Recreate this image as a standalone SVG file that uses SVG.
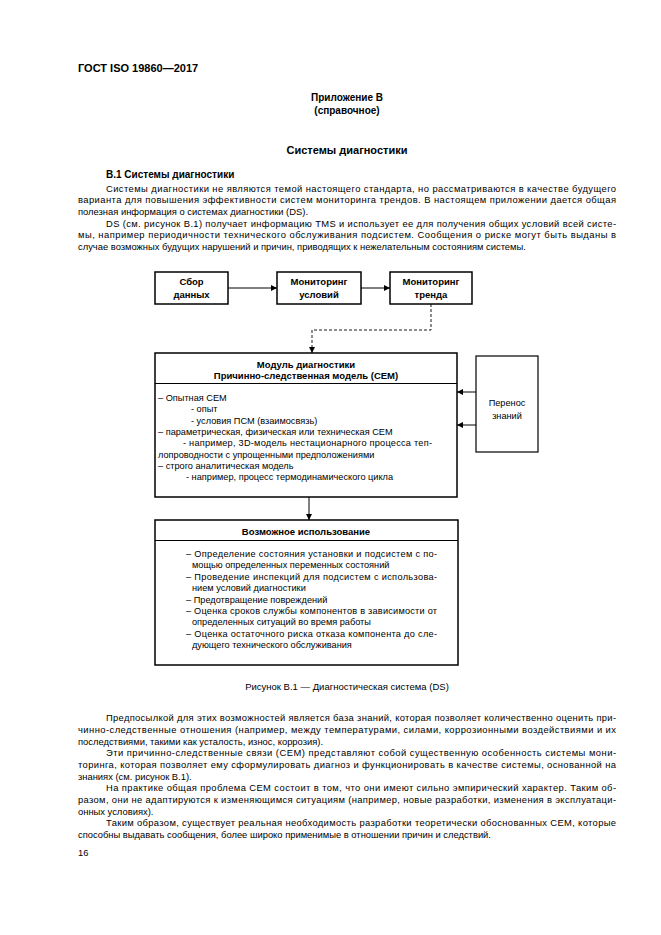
<svg xmlns="http://www.w3.org/2000/svg" width="661" height="935" viewBox="0 0 661 935">
<style>
text{font-family:"Liberation Sans",Arial,sans-serif;fill:#000}
.hd{font-size:11px;font-weight:bold}
.ap{font-size:10px;font-weight:bold;text-anchor:middle}
.p{font-size:9.4px}
.b{font-size:10px;font-weight:bold}
.t{font-size:9.5px;font-weight:bold;text-anchor:middle}
.l{font-size:9.2px}
.c{font-size:9.5px;text-anchor:middle}
.box{fill:#fff;stroke:#000;stroke-width:1.5}
.sep{stroke:#000;stroke-width:1}
.con{fill:none;stroke:#000;stroke-width:1}
.dash{fill:none;stroke:#000;stroke-width:0.9;stroke-dasharray:3,2}
</style>
<defs>
<marker id="ah" viewBox="0 0 10 10" refX="10" refY="5" markerWidth="6" markerHeight="6" markerUnits="userSpaceOnUse" orient="auto">
<path d="M0,0 L10,5 L0,10 z" fill="#000"/>
</marker>
</defs>
<rect width="661" height="935" fill="#fff"/>

<g id="page-text">
<text class="hd" x="78" y="72">ГОСТ ISO 19860—2017</text>
<text class="ap" x="347" y="101">Приложение В</text>
<text class="ap" x="347" y="114">(справочное)</text>
<text class="hd" x="347" y="154" text-anchor="middle">Системы диагностики</text>
<text class="b" x="106" y="178">В.1 Системы диагностики</text>
<text class="p" x="106" y="191.5" textLength="510" lengthAdjust="spacing">Системы диагностики не являются темой настоящего стандарта, но рассматриваются в качестве будущего</text>
<text class="p" x="78" y="203" textLength="538" lengthAdjust="spacing">варианта для повышения эффективности систем мониторинга трендов. В настоящем приложении дается общая</text>
<text class="p" x="78" y="214.5">полезная информация о системах диагностики (DS).</text>
<text class="p" x="106" y="226.5" textLength="510" lengthAdjust="spacing">DS (см. рисунок В.1) получает информацию TMS и использует ее для получения общих условий всей систе-</text>
<text class="p" x="78" y="238" textLength="538" lengthAdjust="spacing">мы, например периодичности технического обслуживания подсистем. Сообщения о риске могут быть выданы в</text>
<text class="p" x="78" y="250">случае возможных будущих нарушений и причин, приводящих к нежелательным состояниям системы.</text>

<text class="c" x="347" y="690">Рисунок В.1 — Диагностическая система (DS)</text>

<text class="p" x="106" y="720.5" textLength="510" lengthAdjust="spacing">Предпосылкой для этих возможностей является база знаний, которая позволяет количественно оценить при-</text>
<text class="p" x="78" y="732.5" textLength="538" lengthAdjust="spacing">чинно-следственные отношения (например, между температурами, силами, коррозионными воздействиями и их</text>
<text class="p" x="78" y="744.5">последствиями, такими как усталость, износ, коррозия).</text>
<text class="p" x="106" y="755.5" textLength="510" lengthAdjust="spacing">Эти причинно-следственные связи (СЕМ) представляют собой существенную особенность системы мони-</text>
<text class="p" x="78" y="767.5" textLength="538" lengthAdjust="spacing">торинга, которая позволяет ему сформулировать диагноз и функционировать в качестве системы, основанной на</text>
<text class="p" x="78" y="779.5">знаниях (см. рисунок В.1).</text>
<text class="p" x="106" y="790.5" textLength="510" lengthAdjust="spacing">На практике общая проблема СЕМ состоит в том, что они имеют сильно эмпирический характер. Таким об-</text>
<text class="p" x="78" y="802.5" textLength="538" lengthAdjust="spacing">разом, они не адаптируются к изменяющимся ситуациям (например, новые разработки, изменения в эксплуатаци-</text>
<text class="p" x="78" y="814.5">онных условиях).</text>
<text class="p" x="106" y="825.5" textLength="510" lengthAdjust="spacing">Таким образом, существует реальная необходимость разработки теоретически обоснованных СЕМ, которые</text>
<text class="p" x="78" y="837.5">способны выдавать сообщения, более широко применимые в отношении причин и следствий.</text>
<text class="p" x="78" y="856">16</text>
</g>

<g id="connectors">
<line class="con" x1="228" y1="288" x2="277" y2="288" marker-end="url(#ah)"/>
<line class="con" x1="361" y1="288" x2="390" y2="288" marker-end="url(#ah)"/>
<path class="dash" d="M431,304 V330 H312 V353" marker-end="url(#ah)"/>
<line class="con" x1="476" y1="392" x2="457" y2="392" marker-end="url(#ah)"/>
<line class="con" x1="476" y1="425" x2="457" y2="425" marker-end="url(#ah)"/>
<line class="con" x1="309" y1="497" x2="309" y2="520" marker-end="url(#ah)"/>
</g>

<g id="node-sbor">
<rect class="box" x="155" y="272" width="73" height="32"/>
<text class="t" x="191.5" y="285">Сбор</text>
<text class="t" x="191.5" y="298">данных</text>
</g>

<g id="node-monitoring-conditions">
<rect class="box" x="277" y="272" width="84" height="32"/>
<text class="t" x="319" y="285">Мониторинг</text>
<text class="t" x="319" y="298">условий</text>
</g>

<g id="node-monitoring-trend">
<rect class="box" x="390" y="272" width="82" height="32"/>
<text class="t" x="431" y="285">Мониторинг</text>
<text class="t" x="431" y="298">тренда</text>
</g>

<g id="node-diagnostic-module">
<rect class="box" x="155" y="353" width="302" height="144"/>
<line class="sep" x1="155" y1="383.5" x2="457" y2="383.5"/>
<text class="t" x="306" y="367.5">Модуль диагностики</text>
<text class="t" x="306" y="379">Причинно-следственная модель (СЕМ)</text>
<text class="l" x="158" y="401">– Опытная СЕМ</text>
<text class="l" x="191" y="412.3">- опыт</text>
<text class="l" x="191" y="423.6">- условия ПСМ (взаимосвязь)</text>
<text class="l" x="158" y="435">– параметрическая, физическая или техническая СЕМ</text>
<text class="l" x="183" y="446.2" textLength="249" lengthAdjust="spacing">- например, 3D-модель нестационарного процесса теп-</text>
<text class="l" x="158" y="457.5">лопроводности с упрощенными предположениями</text>
<text class="l" x="158" y="468.8">– строго аналитическая модель</text>
<text class="l" x="186" y="480">- например, процесс термодинамического цикла</text>
</g>

<g id="node-knowledge-transfer">
<rect class="box" x="476" y="356" width="62" height="96" style="stroke-width:1.2"/>
<text class="l" x="507" y="406" text-anchor="middle">Перенос</text>
<text class="l" x="507" y="418.5" text-anchor="middle">знаний</text>
</g>

<g id="node-possible-use">
<rect class="box" x="155" y="520" width="303" height="145"/>
<line class="sep" x1="155" y1="540.5" x2="458" y2="540.5"/>
<text class="t" x="306" y="535">Возможное использование</text>
<text class="l" x="186" y="557" textLength="251" lengthAdjust="spacing">– Определение состояния установки и подсистем с по-</text>
<text class="l" x="192" y="568.4">мощью определенных переменных состояний</text>
<text class="l" x="186" y="579.8" textLength="251" lengthAdjust="spacing">– Проведение инспекций для подсистем с использова-</text>
<text class="l" x="192" y="591.2">нием условий диагностики</text>
<text class="l" x="186" y="602.6">– Предотвращение повреждений</text>
<text class="l" x="186" y="614" textLength="251" lengthAdjust="spacing">– Оценка сроков службы компонентов в зависимости от</text>
<text class="l" x="192" y="625.4">определенных ситуаций во время работы</text>
<text class="l" x="186" y="636.8" textLength="251" lengthAdjust="spacing">– Оценка остаточного риска отказа компонента до сле-</text>
<text class="l" x="192" y="648.2">дующего технического обслуживания</text>
</g>
</svg>
